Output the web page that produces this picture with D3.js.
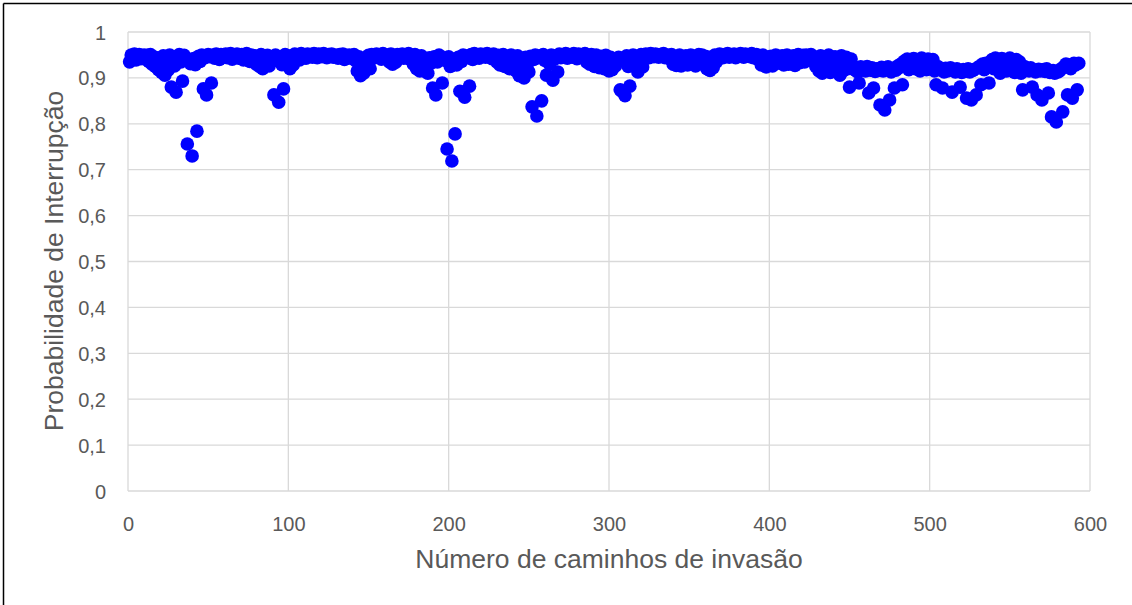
<!DOCTYPE html>
<html><head><meta charset="utf-8">
<script src="https://cdn.jsdelivr.net/npm/d3@7"></script>
<style>html,body{margin:0;padding:0;background:#fff;}svg{display:block;}</style>
</head><body>
<svg id="chart" width="1132" height="605"></svg>
<script>
const xTicks = [0,100,200,300,400,500,600];
const yTicks = [0,0.1,0.2,0.3,0.4,0.5,0.6,0.7,0.8,0.9,1];
const yTickLabels = ["0","0,1","0,2","0,3","0,4","0,5","0,6","0,7","0,8","0,9","1"];
const xTitle = "Número de caminhos de invasão";
const yTitle = "Probabilidade de Interrupção";
const probValues = [
.935,.950,.944,.952,.939,.948,.951,.942,.947,.950,
.941,.949,.936,.951,.930,.946,.925,.944,.918,.940,
.912,.948,.906,.938,.917,.950,.880,.945,.926,.869,
.947,.951,.935,.893,.949,.944,.756,.938,.931,.730,
.942,.929,.784,.947,.936,.950,.876,.944,.863,.951,
.946,.889,.950,.943,.952,.947,.940,.951,.948,.945,
.952,.944,.949,.953,.941,.950,.946,.952,.943,.948,
.951,.939,.947,.953,.944,.936,.950,.942,.948,.930,
.946,.925,.951,.920,.944,.932,.949,.926,.945,.940,
.863,.950,.938,.847,.946,.929,.876,.951,.943,.935,
.920,.948,.928,.952,.944,.949,.939,.953,.946,.950,
.943,.952,.947,.951,.945,.953,.948,.944,.952,.949,
.946,.953,.950,.944,.951,.947,.952,.945,.950,.948,
.943,.951,.946,.952,.940,.949,.944,.950,.947,.942,
.951,.938,.915,.946,.905,.930,.910,.944,.925,.949,
.920,.951,.943,.948,.952,.945,.950,.941,.953,.947,
.944,.950,.935,.952,.930,.947,.934,.951,.945,.949,
.952,.943,.950,.946,.953,.940,.948,.930,.951,.920,
.945,.915,.948,.925,.940,.913,.910,.944,.932,.878,
.946,.863,.935,.950,.940,.889,.944,.938,.745,.946,
.925,.719,.932,.778,.928,.945,.871,.936,.950,.858,
.944,.948,.882,.951,.940,.953,.946,.950,.943,.952,
.948,.951,.945,.953,.947,.950,.942,.952,.946,.935,
.949,.928,.944,.951,.925,.947,.940,.920,.950,.935,
.944,.915,.948,.905,.938,.913,.900,.945,.930,.913,
.947,.837,.940,.950,.817,.944,.948,.850,.951,.938,
.906,.946,.930,.950,.895,.941,.948,.913,.952,.944,
.950,.946,.953,.943,.951,.948,.945,.953,.949,.942,
.952,.947,.950,.944,.953,.935,.948,.930,.951,.944,
.925,.950,.940,.922,.947,.935,.920,.949,.930,.915,
.945,.918,.940,.926,.935,.945,.874,.871,.938,.861,
.948,.925,.882,.944,.950,.935,.947,.913,.940,.951,
.924,.946,.952,.948,.944,.953,.950,.946,.952,.948,
.945,.951,.949,.953,.944,.950,.947,.942,.951,.930,
.946,.927,.940,.950,.926,.944,.935,.948,.928,.941,
.950,.930,.945,.926,.948,.951,.944,.950,.940,.947,
.920,.945,.916,.940,.922,.950,.935,.946,.952,.948,
.944,.951,.947,.953,.945,.950,.948,.952,.944,.950,
.947,.953,.951,.945,.952,.948,.950,.946,.953,.944,
.949,.951,.940,.946,.928,.950,.935,.924,.944,.930,
.947,.926,.940,.950,.932,.945,.938,.948,.928,.943,
.950,.930,.946,.936,.948,.927,.940,.951,.933,.945,
.949,.935,.950,.944,.940,.951,.938,.946,.925,.941,
.915,.948,.910,.944,.920,.935,.950,.912,.942,.925,
.946,.918,.940,.906,.948,.915,.935,.945,.920,.880,
.941,.925,.918,.922,.913,.889,.924,.918,.920,.915,
.925,.867,.917,.922,.878,.914,.920,.916,.841,.923,
.915,.830,.919,.924,.852,.913,.920,.878,.917,.926,
.922,.930,.885,.936,.925,.941,.918,.938,.930,.942,
.920,.940,.935,.915,.943,.925,.938,.918,.941,.935,
.922,.940,.915,.885,.925,.918,.920,.878,.913,.921,
.915,.918,.922,.869,.917,.913,.920,.915,.880,.912,
.918,.914,.856,.920,.913,.852,.916,.919,.863,.922,
.925,.885,.930,.918,.932,.926,.889,.935,.940,.920,
.943,.930,.938,.910,.942,.925,.940,.915,.936,.943,
.920,.938,.912,.940,.928,.935,.910,.874,.925,.918,
.920,.915,.922,.880,.917,.913,.863,.919,.915,.852,
.918,.914,.920,.867,.912,.815,.916,.910,.804,.913,
.915,.920,.826,.925,.930,.863,.928,.920,.856,.932,
.928,.874,.932
];
const pathIndex = probValues.map((v,i)=>i+1);

const svg = d3.select("#chart");
const L = 128, R = 1090, T = 32, B = 491;
const x = d3.scaleLinear().domain([0,600]).range([L,R]);
const y = d3.scaleLinear().domain([0,1]).range([B,T]);
const FONT = "'Liberation Sans', Arial, sans-serif";

// outer frame (top and left)
svg.append("line").attr("x1",3.5).attr("x2",1132).attr("y1",3.5).attr("y2",3.5).attr("stroke","#000").attr("stroke-width",1.5);
svg.append("line").attr("x1",3.5).attr("x2",3.5).attr("y1",3.5).attr("y2",605).attr("stroke","#000").attr("stroke-width",1.5);

// gridlines
const grid = svg.append("g");
grid.selectAll(".hg").data(yTicks).join("line")
  .attr("x1",L).attr("x2",R).attr("y1",d=>y(d)).attr("y2",d=>y(d))
  .attr("stroke","#d9d9d9").attr("stroke-width",1.3);
grid.selectAll(".vg").data(xTicks).join("line")
  .attr("y1",T).attr("y2",B).attr("x1",d=>x(d)).attr("x2",d=>x(d))
  .attr("stroke","#d9d9d9").attr("stroke-width",1.3);

// axes
const xAxis = d3.axisBottom(x).tickValues(xTicks).tickSize(0).tickPadding(0).tickFormat(d3.format("d"));
const gx = svg.append("g").attr("transform",`translate(0,${B})`).call(xAxis);
gx.select(".domain").remove();
gx.selectAll("text").attr("dy",null).attr("y",40).attr("font-family",FONT)
  .attr("font-size",20).attr("fill","#595959");

const yAxis = d3.axisLeft(y).tickValues(yTicks).tickSize(0).tickPadding(0).tickFormat((d,i)=>yTickLabels[i]);
const gy = svg.append("g").attr("transform",`translate(${L},0)`).call(yAxis);
gy.select(".domain").remove();
gy.selectAll("text").attr("x",-22).attr("dy","0.35em").attr("font-family",FONT)
  .attr("font-size",20).attr("fill","#595959");

// points
svg.append("g").selectAll("circle").data(probValues).join("circle")
  .attr("cx",(d,i)=>x(pathIndex[i])).attr("cy",d=>y(d)).attr("r",6.8).attr("fill","#0000ff");

// titles
svg.append("text").attr("x",609).attr("y",568).attr("text-anchor","middle")
  .attr("font-family",FONT).attr("font-size",26.5).attr("fill","#595959").text(xTitle);
svg.append("text").attr("transform",`translate(63,261) rotate(-90)`).attr("text-anchor","middle")
  .attr("font-family",FONT).attr("font-size",26.5).attr("fill","#595959").text(yTitle);
</script>
</body></html>
